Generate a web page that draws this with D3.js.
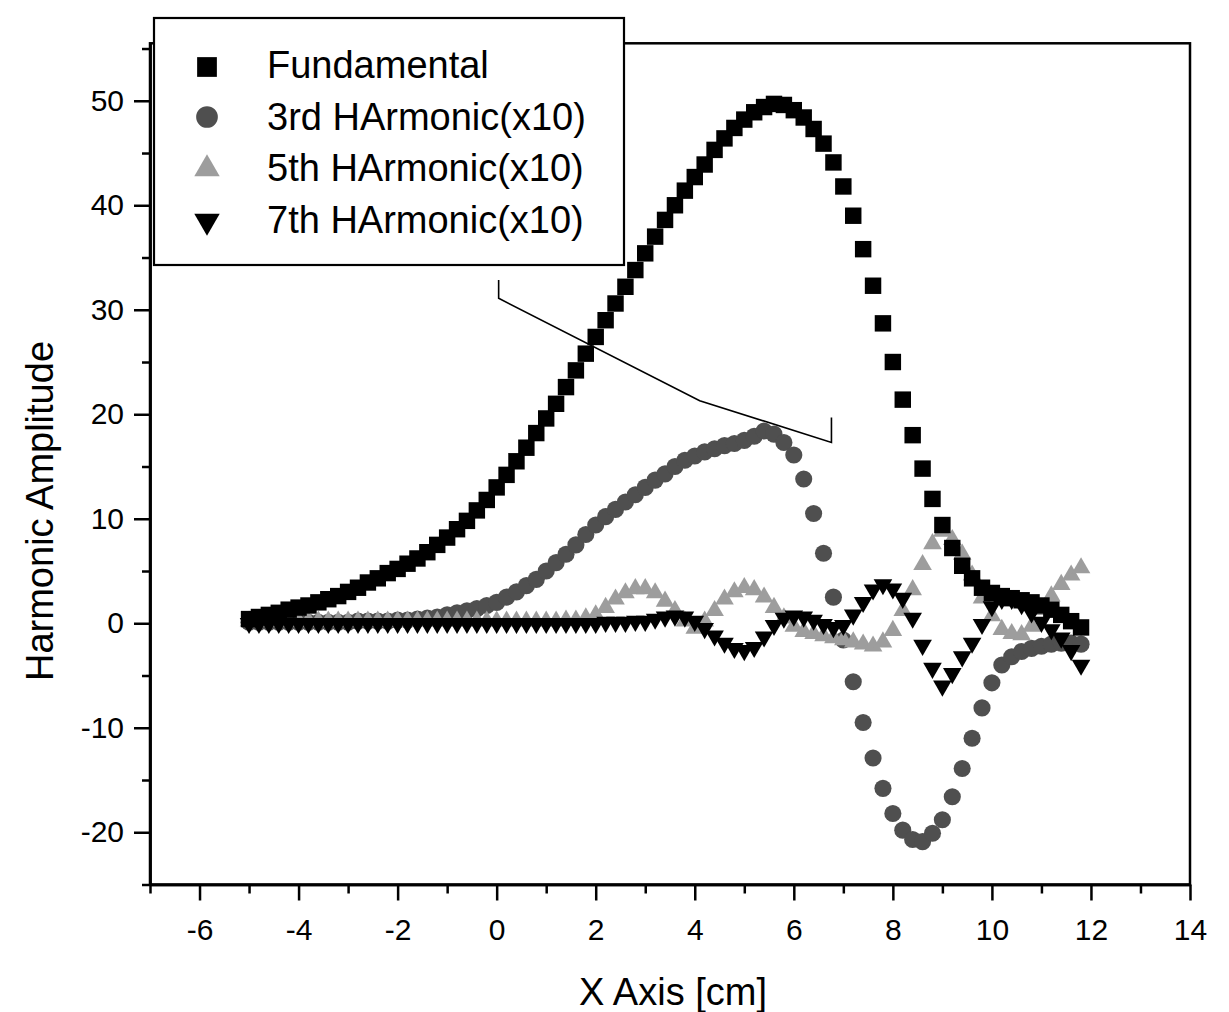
<!DOCTYPE html>
<html>
<head>
<meta charset="utf-8">
<script src="https://cdn.jsdelivr.net/npm/d3@7"></script>
<style>
  html, body { margin: 0; padding: 0; background: #fff; }
  svg { display: block; }
  text { font-family: "Liberation Sans", Arial, sans-serif; fill: #000; }
</style>
</head>
<body>
<svg id="chart" width="1229" height="1012"></svg>
<script>
// x positions of the samples [cm]
var xValues = [-5.0, -4.8, -4.6, -4.4, -4.2, -4.0, -3.8, -3.6, -3.4, -3.2,
    -3.0, -2.8, -2.6, -2.4, -2.2, -2.0, -1.8, -1.6, -1.4, -1.2,
    -1.0, -0.8, -0.6, -0.4, -0.2, 0.0, 0.2, 0.4, 0.6, 0.8,
    1.0, 1.2, 1.4, 1.6, 1.8, 2.0, 2.2, 2.4, 2.6, 2.8,
    3.0, 3.2, 3.4, 3.6, 3.8, 4.0, 4.2, 4.4, 4.6, 4.8,
    5.0, 5.2, 5.4, 5.6, 5.8, 6.0, 6.2, 6.4, 6.6, 6.8,
    7.0, 7.2, 7.4, 7.6, 7.8, 8.0, 8.2, 8.4, 8.6, 8.8,
    9.0, 9.2, 9.4, 9.6, 9.8, 10.0, 10.2, 10.4, 10.6, 10.8,
    11.0, 11.2, 11.4, 11.6, 11.8];

var fundamental = [0.4, 0.6, 0.8, 1.0, 1.3, 1.5, 1.7, 2.0, 2.3, 2.6,
    3.0, 3.4, 3.9, 4.3, 4.8, 5.2, 5.7, 6.2, 6.8, 7.5,
    8.2, 9.0, 9.8, 10.8, 11.8, 13.0, 14.2, 15.5, 16.8, 18.2,
    19.6, 21.0, 22.6, 24.2, 25.8, 27.4, 29.0, 30.6, 32.2, 33.8,
    35.4, 37.0, 38.6, 40.0, 41.4, 42.7, 43.9, 45.3, 46.4, 47.4,
    48.2, 48.9, 49.4, 49.7, 49.6, 49.1, 48.4, 47.3, 45.9, 44.1,
    41.8, 39.0, 35.8, 32.3, 28.7, 25.0, 21.4, 18.0, 14.8, 11.9,
    9.4, 7.2, 5.5, 4.3, 3.4, 2.9, 2.6, 2.4, 2.2, 2.0,
    1.7, 1.3, 0.8, 0.2, -0.4];

var harmonic3 = [0.1, 0.1, 0.1, 0.1, 0.1, 0.1, 0.1, 0.1, 0.1, 0.1,
    0.1, 0.2, 0.2, 0.2, 0.2, 0.3, 0.3, 0.4, 0.5, 0.6,
    0.8, 1.0, 1.2, 1.4, 1.7, 2.0, 2.5, 3.0, 3.6, 4.2,
    5.0, 5.8, 6.6, 7.5, 8.5, 9.4, 10.2, 10.9, 11.6, 12.3,
    13.0, 13.7, 14.3, 15.0, 15.6, 16.0, 16.4, 16.7, 17.0, 17.2,
    17.5, 17.9, 18.4, 18.1, 17.3, 16.1, 13.8, 10.5, 6.7, 2.5,
    -1.6, -5.6, -9.5, -12.9, -15.8, -18.2, -19.8, -20.7, -20.9, -20.1,
    -18.8, -16.6, -13.9, -11.0, -8.1, -5.7, -4.0, -3.2, -2.7, -2.4,
    -2.2, -2.0, -1.9, -1.9, -2.0];

var harmonic5 = [0.2, 0.2, 0.2, 0.2, 0.2, 0.2, 0.2, 0.2, 0.2, 0.2,
    0.2, 0.2, 0.2, 0.2, 0.2, 0.2, 0.2, 0.2, 0.2, 0.2,
    0.2, 0.2, 0.2, 0.2, 0.2, 0.2, 0.2, 0.2, 0.2, 0.2,
    0.2, 0.2, 0.3, 0.3, 0.5, 0.8, 1.5, 2.3, 2.9, 3.3,
    3.3, 2.9, 2.1, 1.2, 0.2, -0.5, 0.2, 1.2, 2.3, 3.0,
    3.4, 3.2, 2.5, 1.5, 0.5, -0.3, -0.8, -1.0, -1.2, -1.4,
    -1.6, -1.8, -2.0, -2.2, -1.8, -0.7, 1.2, 3.2, 5.6, 7.6,
    8.8, 8.0, 6.6, 4.6, 2.4, 0.7, -0.6, -1.0, -1.1, -0.3,
    1.3, 2.6, 3.7, 4.6, 5.3];

var harmonic7 = [0.0, 0.0, 0.0, 0.0, 0.0, 0.0, 0.0, 0.0, 0.0, 0.0,
    0.0, 0.0, 0.0, 0.0, 0.0, 0.0, 0.0, 0.0, 0.0, 0.0,
    0.0, 0.0, 0.0, 0.0, 0.0, 0.0, 0.0, 0.0, 0.0, 0.0,
    0.0, 0.0, 0.0, 0.0, 0.0, 0.0, 0.1, 0.1, 0.1, 0.2,
    0.2, 0.4, 0.6, 0.7, 0.6, 0.2, -0.5, -1.2, -1.9, -2.4,
    -2.6, -2.3, -1.3, -0.2, 0.5, 0.7, 0.6, 0.3, -0.1, -0.4,
    -0.2, 0.8, 2.0, 3.2, 3.7, 3.3, 2.4, 0.5, -2.1, -4.3,
    -6.0, -4.8, -3.2, -1.9, -0.1, 1.6, 2.3, 2.3, 1.8, 1.0,
    0.1, -0.6, -1.4, -2.6, -4.0];

var legendLabels = ["Fundamental", "3rd HArmonic(x10)", "5th HArmonic(x10)", "7th HArmonic(x10)"];

var xMajorTicks = [-6, -4, -2, 0, 2, 4, 6, 8, 10, 12, 14];
var xMinorTicks = [-7, -5, -3, -1, 1, 3, 5, 7, 9, 11, 13];
var yMajorTicks = [-20, -10, 0, 10, 20, 30, 40, 50];
var yMinorTicks = [-25, -15, -5, 5, 15, 25, 35, 45, 55];

// the thin bracket line drawn across the plot
var bracketX = [0.04, 0.04, 4.1, 6.76, 6.76];
var bracketY = [32.85, 31.1, 21.3, 17.3, 19.7];

var svg = d3.select("#chart");

var x = d3.scaleLinear().domain([-7, 14]).range([150, 1190]);
var y = d3.scaleLinear().domain([-25, 55.5]).range([884.5, 43.3]);

var series = [
    { name: legendLabels[0], values: fundamental, type: d3.symbolSquare, size: 270, legendSize: 390, rotate: 0, fill: "#000" },
    { name: legendLabels[1], values: harmonic3, type: d3.symbolCircle, size: 230, legendSize: 370, rotate: 0, fill: "#4f4f4f" },
    { name: legendLabels[2], values: harmonic5, type: d3.symbolTriangle, size: 150, legendSize: 280, rotate: 0, fill: "#9d9d9d" },
    { name: legendLabels[3], values: harmonic7, type: d3.symbolTriangle, size: 150, legendSize: 280, rotate: 180, fill: "#000" }
];

// drawing order: 3rd, 5th, fundamental, 7th
var drawOrder = [1, 2, 0, 3];
var plot = svg.append("g");
drawOrder.forEach(function (k) {
    var s = series[k];
    var sym = d3.symbol().type(s.type).size(s.size);
    plot.append("g")
        .selectAll("path")
        .data(xValues.map(function (xv, i) { return { x: xv, y: s.values[i] }; }))
        .join("path")
        .attr("d", sym)
        .attr("fill", s.fill)
        .attr("transform", function (d) {
            return "translate(" + x(d.x) + "," + y(d.y) + ") rotate(" + s.rotate + ")";
        });
});

// bracket annotation
var bracketLine = d3.line().x(function (d) { return x(d[0]); }).y(function (d) { return y(d[1]); });
svg.append("path")
    .attr("d", bracketLine(bracketX.map(function (v, i) { return [v, bracketY[i]]; })))
    .attr("fill", "none")
    .attr("stroke", "#000")
    .attr("stroke-width", 1.6);

// frame
svg.append("rect")
    .attr("x", x(-7)).attr("y", y(55.5))
    .attr("width", x(14) - x(-7)).attr("height", y(-25) - y(55.5))
    .attr("fill", "none").attr("stroke", "#000").attr("stroke-width", 2.5);

// axes
function styleAxis(g) {
    g.select(".domain").attr("stroke-width", 2.5);
    g.selectAll(".tick line").attr("stroke-width", 2.5);
    g.selectAll(".tick text")
        .style("font-family", "'Liberation Sans', Arial, sans-serif")
        .style("font-size", "30px");
}

svg.append("g")
    .attr("transform", "translate(0," + y(-25) + ")")
    .call(d3.axisBottom(x).tickValues(xMinorTicks).tickSize(9).tickSizeOuter(0).tickFormat(""))
    .call(styleAxis);
svg.append("g")
    .attr("transform", "translate(0," + y(-25) + ")")
    .call(d3.axisBottom(x).tickValues(xMajorTicks).tickSize(16).tickSizeOuter(0).tickPadding(18)
        .tickFormat(function (d) { return String(d); }))
    .call(styleAxis);

svg.append("g")
    .attr("transform", "translate(" + x(-7) + ",0)")
    .call(d3.axisLeft(y).tickValues(yMinorTicks).tickSize(8).tickSizeOuter(0).tickFormat(""))
    .call(styleAxis);
svg.append("g")
    .attr("transform", "translate(" + x(-7) + ",0)")
    .call(d3.axisLeft(y).tickValues(yMajorTicks).tickSize(16).tickSizeOuter(0).tickPadding(10)
        .tickFormat(function (d) { return String(d); }))
    .call(styleAxis);

// axis titles
svg.append("text")
    .attr("x", 673).attr("y", 1005)
    .attr("text-anchor", "middle")
    .style("font-size", "38px")
    .text("X Axis [cm]");
svg.append("text")
    .attr("transform", "translate(53,511) rotate(-90)")
    .attr("text-anchor", "middle")
    .style("font-size", "38px")
    .text("Harmonic Amplitude");

// legend
var legend = svg.append("g");
legend.append("rect")
    .attr("x", 154).attr("y", 18)
    .attr("width", 470).attr("height", 247)
    .attr("fill", "#fff").attr("stroke", "#000").attr("stroke-width", 2.2);
var rowBase = [78, 130, 181, 233];
var symY = [67, 117, 169, 221];
series.forEach(function (s, i) {
    legend.append("path")
        .attr("d", d3.symbol().type(s.type).size(s.legendSize))
        .attr("fill", s.fill)
        .attr("transform", "translate(207," + symY[i] + ") rotate(" + s.rotate + ")");
    legend.append("text")
        .attr("x", 267).attr("y", rowBase[i])
        .style("font-size", "38px")
        .text(s.name);
});
</script>
</body>
</html>
